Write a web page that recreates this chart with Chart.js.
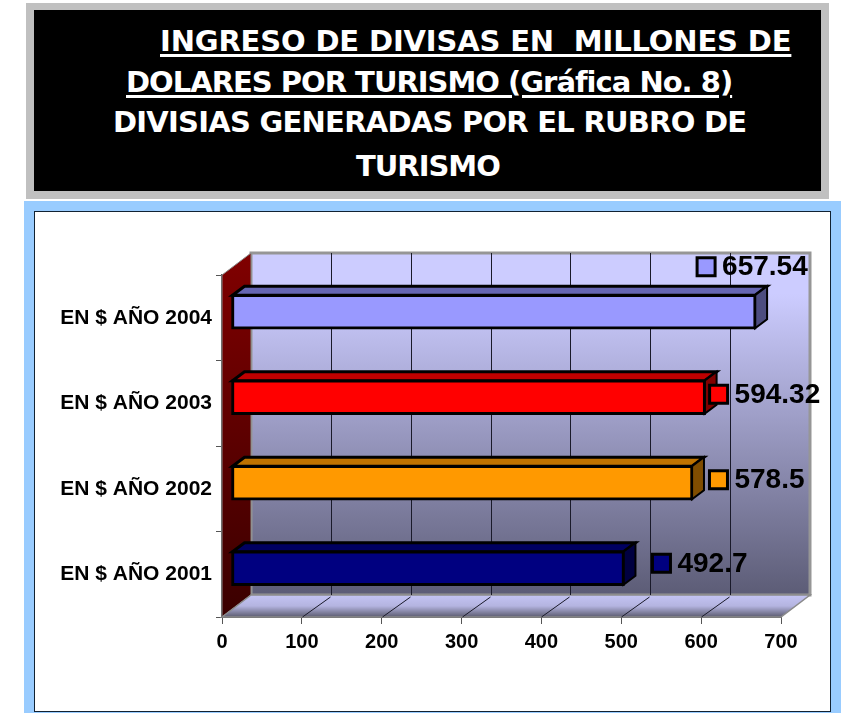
<!DOCTYPE html>
<html>
<head>
<meta charset="utf-8">
<style>
  html, body { margin: 0; padding: 0; background: #fff; }
  #page { position: relative; width: 846px; height: 713px; overflow: hidden; }
  #titleFrame { position: absolute; left: 26px; top: 3px; width: 787px; height: 181px; background: #000; border: 8px solid #c0c0c0; border-top-width: 7px; }
  #chartFrame { position: absolute; left: 24px; top: 201px; width: 817px; height: 512px; background: #99ccff; }
  #chartInner { position: absolute; left: 10px; top: 10px; width: 795px; height: 499px; background: #fff; border: 1px solid #123; }
  .t { position: absolute; color: #fff; font: bold 29px "DejaVu Sans", sans-serif; white-space: pre; line-height: 34px; }
  .u { text-decoration: underline; text-decoration-thickness: 3px; text-underline-offset: 3px; }
  canvas { position: absolute; left: 0; top: 0; }
</style>
</head>
<body>
<div id="page">
  <div id="titleFrame"></div>
  <div id="chartFrame"><div id="chartInner"></div></div>
  <div class="t u" style="left:160px;top:24px;letter-spacing:-0.15px">INGRESO DE DIVISAS EN  MILLONES DE</div>
  <div class="t u" style="left:126px;top:65px;letter-spacing:-1px">DOLARES POR TURISMO (Gráfica No. 8)</div>
  <div class="t" style="left:113px;top:105px;letter-spacing:-0.75px">DIVISIAS GENERADAS POR EL RUBRO DE</div>
  <div class="t" style="left:356px;top:149px;letter-spacing:-1px">TURISMO</div>
  <canvas id="chart" width="846" height="713"></canvas>
</div>
<script src="https://cdn.jsdelivr.net/npm/chart.js@4"></script>
<script>
const categories = ['EN $ AÑO 2004', 'EN $ AÑO 2003', 'EN $ AÑO 2002', 'EN $ AÑO 2001'];
const values = [657.54, 594.32, 578.5, 492.7];
const barColors = ['#9999ff', '#ff0000', '#ff9900', '#000080'];
const topColors = ['#6666b3', '#bf0000', '#bf7300', '#000060'];
const sideColors = ['#4d4d80', '#800000', '#804d00', '#000040'];

// wall depth and bar depth of the fake 3D box
const DX = 29, DY = 22;
const BAR_DX = 12, BAR_DY = 9;
const BAR_SHIFT_X = 9, BAR_SHIFT_Y = -6;
// the value labels were moved by hand in the original
const labelOffsets = [[-41, -51], [22, -9], [34.5, -9], [46, -11]];

function poly(ctx, pts, fill, stroke, lw) {
    ctx.beginPath();
    pts.forEach((p, i) => i ? ctx.lineTo(p[0], p[1]) : ctx.moveTo(p[0], p[1]));
    ctx.closePath();
    if (fill) { ctx.fillStyle = fill; ctx.fill(); }
    if (stroke) { ctx.strokeStyle = stroke; ctx.lineWidth = lw; ctx.stroke(); }
}

const box3d = {
    id: 'box3d',
    beforeDatasetsDraw(chart) {
        const { ctx, chartArea: a, scales: { x } } = chart;
        ctx.save();
        const wall = ctx.createLinearGradient(0, a.top - DY, 0, a.bottom - DY);
        wall.addColorStop(0, '#ccccff');
        wall.addColorStop(0.12, '#ccccff');
        wall.addColorStop(1, '#5c5c76');
        poly(ctx, [[a.left + DX, a.top - DY], [a.right + DX, a.top - DY], [a.right + DX, a.bottom - DY], [a.left + DX, a.bottom - DY]], wall, '#969696', 3);

        const side = ctx.createLinearGradient(0, a.top - DY, 0, a.bottom);
        side.addColorStop(0, '#800000');
        side.addColorStop(1, '#3a0000');
        poly(ctx, [[a.left, a.top], [a.left + DX, a.top - DY], [a.left + DX, a.bottom - DY], [a.left, a.bottom]], side, '#8a8a8a', 1);

        const floor = ctx.createLinearGradient(0, a.bottom - DY, 0, a.bottom);
        floor.addColorStop(0, '#c4c4f4');
        floor.addColorStop(0.5, '#b4b4e0');
        floor.addColorStop(1, '#5c5c70');
        poly(ctx, [[a.left, a.bottom], [a.left + DX, a.bottom - DY], [a.right + DX, a.bottom - DY], [a.right, a.bottom]], floor, '#8a8a8a', 1.5);

        ctx.strokeStyle = '#1a1a2a';
        ctx.lineWidth = 1;
        x.ticks.forEach(t => {
            if (t.value === 0 || t.value === 700) return;
            const px = Math.round(x.getPixelForValue(t.value)) + 0.5;
            ctx.beginPath();
            ctx.moveTo(px + DX, a.top - DY);
            ctx.lineTo(px + DX, a.bottom - DY);
            ctx.moveTo(px + DX - 1, a.bottom - DY + 2);
            ctx.lineTo(px, a.bottom);
            ctx.stroke();
        });
        ctx.restore();
    },
    beforeDatasetDraw(chart, args) {
        const { ctx } = chart;
        ctx.save();
        ctx.translate(BAR_SHIFT_X, BAR_SHIFT_Y);
        args.meta.data.forEach((bar, i) => {
            const p = bar.getProps(['x', 'y', 'base', 'height'], true);
            const t = p.y - p.height / 2, b = p.y + p.height / 2;
            poly(ctx, [[p.base + 1, t + 1], [p.base + 1 + BAR_DX, t + 1 - BAR_DY], [p.x - 1 + BAR_DX, t + 1 - BAR_DY], [p.x - 1, t + 1]], topColors[i], '#000', 3);
            poly(ctx, [[p.x - 1, t + 1], [p.x - 1 + BAR_DX, t + 1 - BAR_DY], [p.x - 1 + BAR_DX, b - 1 - BAR_DY], [p.x - 1, b - 1]], sideColors[i], '#000', 2);
        });
    },
    afterDatasetDraw(chart) {
        chart.ctx.restore();
    },
    afterDatasetsDraw(chart) {
        const { ctx } = chart;
        const meta = chart.getDatasetMeta(0);
        ctx.save();
        ctx.font = 'bold 28px "Liberation Sans", Arial, sans-serif';
        ctx.textBaseline = 'middle';
        ctx.textAlign = 'left';
        meta.data.forEach((bar, i) => {
            const cx = bar.x + labelOffsets[i][0], cy = bar.y + labelOffsets[i][1];
            ctx.fillStyle = barColors[i];
            ctx.strokeStyle = '#000';
            ctx.lineWidth = 3;
            ctx.fillRect(cx - 9, cy - 9, 18, 18);
            ctx.strokeRect(cx - 9, cy - 9, 18, 18);
            ctx.fillStyle = '#000';
            ctx.fillText(String(values[i]), cx + 16, cy + 1);
        });
        ctx.restore();
    }
};

new Chart(document.getElementById('chart'), {
    type: 'bar',
    data: {
        labels: categories,
        datasets: [{
            data: values,
            backgroundColor: barColors,
            borderColor: '#000',
            borderWidth: 3,
            borderSkipped: false,
            barThickness: 35
        }]
    },
    plugins: [box3d],
    options: {
        indexAxis: 'y',
        responsive: false,
        animation: false,
        layout: { padding: { left: 0, top: 275, right: 65, bottom: 0 } },
        plugins: { legend: { display: false }, tooltip: { enabled: false } },
        scales: {
            x: {
                min: 0,
                max: 700,
                afterFit: s => { s.height = 96; },
                ticks: {
                    stepSize: 100,
                    color: '#000',
                    padding: 6,
                    maxRotation: 0,
                    font: { family: '"Liberation Sans", Arial, sans-serif', size: 20, weight: 'bold' }
                },
                grid: { drawOnChartArea: false, tickLength: 7, color: '#555' },
                border: { color: '#555', width: 2 }
            },
            y: {
                afterFit: s => { s.width = 222; },
                ticks: {
                    color: '#000',
                    padding: 4,
                    font: { family: '"Liberation Sans", Arial, sans-serif', size: 21, weight: 'bold' }
                },
                grid: { drawOnChartArea: false, tickLength: 6, color: '#555' },
                border: { color: '#555', width: 2 }
            }
        }
    }
});
</script>
</body>
</html>
